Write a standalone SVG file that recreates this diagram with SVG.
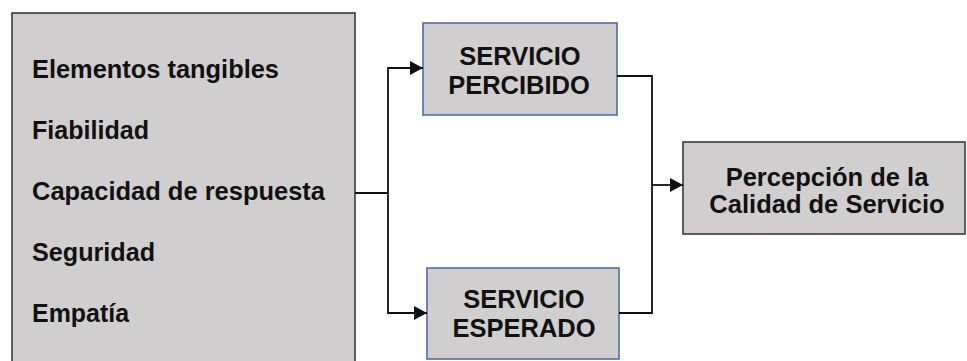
<svg xmlns="http://www.w3.org/2000/svg" width="967" height="361" viewBox="0 0 967 361">
  <style>
    .box { fill: #d0cece; stroke: #3a3a3a; stroke-width: 1.6; }
    .bbox { fill: #d0cece; stroke: #4f6fab; stroke-width: 1.6; }
    .t { font-family: "Liberation Sans", Arial, sans-serif; font-weight: bold; font-size: 25.5px; fill: #111; }
    .c { text-anchor: middle; }
    .ln { fill: none; stroke: #111; stroke-width: 1.8; }
  </style>
  <defs>
    <marker id="arr" viewBox="0 0 13 14" refX="13" refY="7" markerWidth="13" markerHeight="14" markerUnits="userSpaceOnUse" orient="auto">
      <path d="M0,0 L13,7 L0,14 Z" fill="#111"/>
    </marker>
  </defs>
  <rect width="967" height="361" fill="#ffffff"/>

  <g id="dimensiones">
    <rect class="box" x="12" y="13" width="343" height="360"/>
    <text class="t" x="32" y="78" textLength="247" lengthAdjust="spacingAndGlyphs">Elementos tangibles</text>
    <text class="t" x="32" y="139" textLength="117" lengthAdjust="spacingAndGlyphs">Fiabilidad</text>
    <text class="t" x="32" y="200" textLength="293" lengthAdjust="spacingAndGlyphs">Capacidad de respuesta</text>
    <text class="t" x="32" y="261" textLength="123" lengthAdjust="spacingAndGlyphs">Seguridad</text>
    <text class="t" x="32" y="322" textLength="97" lengthAdjust="spacingAndGlyphs">Empatía</text>
  </g>

  <g id="percibido">
    <rect class="bbox" x="423" y="23" width="194" height="92"/>
    <text class="t c" x="520" y="65">SERVICIO</text>
    <text class="t c" x="519" y="94">PERCIBIDO</text>
  </g>

  <g id="esperado">
    <rect class="bbox" x="427" y="268" width="192" height="91"/>
    <text class="t c" x="524" y="308">SERVICIO</text>
    <text class="t c" x="524" y="337">ESPERADO</text>
  </g>

  <g id="percepcion">
    <rect class="box" x="683" y="142" width="282" height="92"/>
    <text class="t c" x="827" y="186">Percepción de la</text>
    <text class="t c" x="827" y="213">Calidad de Servicio</text>
  </g>

  <g id="connectors">
    <path class="ln" d="M355,193 H388"/>
    <path class="ln" d="M388,193 V68 H423" marker-end="url(#arr)"/>
    <path class="ln" d="M388,193 V313 H427" marker-end="url(#arr)"/>
    <path class="ln" d="M617,76 H652 V313 H619"/>
    <path class="ln" d="M652,185 H683" marker-end="url(#arr)"/>
  </g>
</svg>
